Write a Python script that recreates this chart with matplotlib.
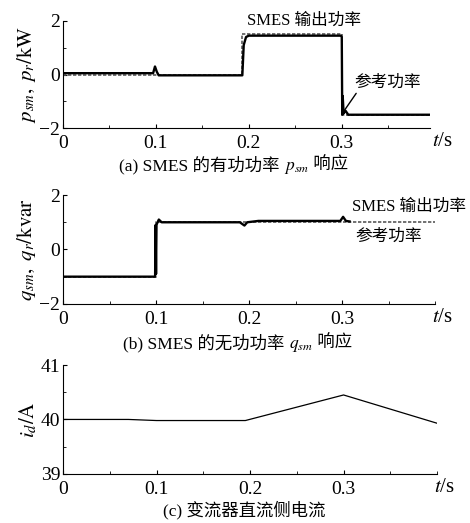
import matplotlib
matplotlib.use('Agg')
import matplotlib.pyplot as plt
from matplotlib.ticker import MultipleLocator
import matplotlib.transforms as mtransforms

plt.rcParams['font.family'] = ['Liberation Serif', 'Noto Sans CJK SC']
plt.rcParams['mathtext.fontset'] = 'stix'

# (a) active power, kW
t_p = [0, 0.097, 0.099, 0.101, 0.103, 0.193, 0.1945, 0.197, 0.2, 0.299, 0.3, 0.3005, 0.301, 0.302, 0.304, 0.307, 0.395]
p_sm = [0.05, 0.05, 0.3, 0.1, -0.03, -0.03, 1.1, 1.4, 1.45, 1.45, 1.4, -1.5, -0.8, -1.45, -1.35, -1.5, -1.5]
t_pref = [0, 0.193, 0.193, 0.3, 0.3, 0.395]
p_ref = [0, 0, 1.5, 1.5, -1.5, -1.5]

# (b) reactive power, kvar
t_q = [0, 0.099, 0.0995, 0.1, 0.1005, 0.101, 0.103, 0.106, 0.19, 0.195, 0.198, 0.21, 0.298, 0.301, 0.304, 0.308]
q_sm = [-1, -1, 0.9, -0.9, 0.9, 0.95, 1.1, 1.0, 1.0, 0.88, 1.0, 1.05, 1.05, 1.2, 1.05, 1.03]
t_qref = [0, 0.1, 0.1, 0.4]
q_ref = [-1, -1, 1, 1]

# (c) dc side current, A
t_i = [0, 0.07, 0.1, 0.195, 0.3, 0.4]
i_d = [40.0, 40.0, 39.98, 39.98, 40.45, 39.93]

xticks = [0, 0.1, 0.2, 0.3]
xtick_labels = ['0', '0.1', '0.2', '0.3']

fig = plt.figure(figsize=(4.7, 5.23), dpi=100)
ax1 = fig.add_axes([0.134, 0.755, 0.781, 0.205])
ax2 = fig.add_axes([0.134, 0.419, 0.792, 0.208])
ax3 = fig.add_axes([0.134, 0.094, 0.796, 0.208])


def style(ax, xmax, ylim, yticks, yminor):
    ax.set_xlim(0, xmax)
    ax.set_ylim(*ylim)
    ax.spines['top'].set_visible(False)
    ax.spines['right'].set_visible(False)
    ax.set_xticks(xticks)
    ax.set_xticklabels(xtick_labels)
    ax.set_yticks(yticks)
    ax.xaxis.set_minor_locator(MultipleLocator(0.05))
    ax.yaxis.set_minor_locator(MultipleLocator(yminor))
    ax.tick_params(direction='in', labelsize=14, length=3, width=0.8)
    ax.tick_params(axis='x', pad=5)
    ax.tick_params(axis='y', pad=2)
    ax.tick_params(which='minor', direction='in', length=2, width=0.6)
    trans = mtransforms.blended_transform_factory(ax.transData, ax.transAxes)
    ax.text(0.397, -0.04, '$t$/s', transform=trans, ha='left', va='top', fontsize=15)


style(ax1, 0.395, (-2, 2), [-2, 0, 2], 1)
ax1.plot(t_pref, p_ref, color='0.35', lw=1.2, ls=(0, (2, 1)))
ax1.plot(t_p, p_sm, color='black', lw=1.7)
ax1.set_ylabel(r'$p_{sm}, \ p_r/\mathrm{kW}$', fontsize=15, labelpad=1)
ax1.text(0.259, 2.0, 'SMES 输出功率', ha='center', va='center', fontsize=12, clip_on=False)
ax1.annotate('参考功率', xy=(0.303, -1.33), xytext=(0.314, -0.3),
             fontsize=12, va='center', ha='left',
             arrowprops=dict(arrowstyle='-', color='black', lw=1, shrinkA=0, shrinkB=0,
                             relpos=(0.05, 0)))

style(ax2, 0.4, (-2, 2), [-2, 0, 2], 1)
ax2.plot(t_qref, q_ref, color='0.35', lw=1.2, ls=(0, (2, 1)))
ax2.plot(t_q, q_sm, color='black', lw=1.7)
ax2.set_ylabel(r'$q_{sm}, \ q_r/\mathrm{kvar}$', fontsize=15, labelpad=1)
ax2.text(0.311, 1.55, 'SMES 输出功率', ha='left', va='center', fontsize=12, clip_on=False)
ax2.text(0.314, 0.45, '参考功率', ha='left', va='center', fontsize=12, clip_on=False)

style(ax3, 0.4, (39, 41), [39, 40, 41], 0.5)
ax3.plot(t_i, i_d, color='black', lw=0.9)
ax3.set_ylabel(r'$i_d/\mathrm{A}$', fontsize=15, labelpad=1)

fig.canvas.draw()
renderer = fig.canvas.get_renderer()


def place_caption(xc, y, parts, size=12.5):
    # lay text pieces side by side, centred on xc
    texts = [fig.text(0, y, p, fontsize=size, ha='left', va='baseline') for p in parts]
    widths = [t.get_window_extent(renderer).width for t in texts]
    figw = fig.bbox.width
    x = xc * figw - sum(widths) / 2
    for t, w in zip(texts, widths):
        t.set_x(x / figw)
        x += w


place_caption(0.497, 1 - 170 / 523, ['(a) SMES 的有功功率 ', r'$p_{sm}$', ' 响应'])
place_caption(0.505, 1 - 348 / 523, ['(b) SMES 的无功功率 ', r'$q_{sm}$', ' 响应'])
place_caption(0.52, 1 - 515 / 523, ['(c) 变流器直流侧电流'])

fig.savefig('out.png', dpi=100)
